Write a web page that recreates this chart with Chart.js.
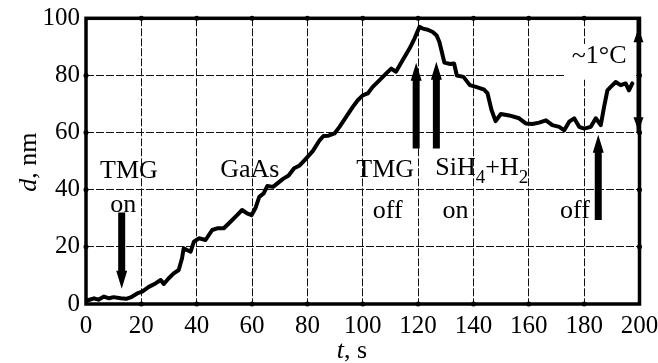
<!DOCTYPE html>
<html>
<head>
<meta charset="utf-8">
<script src="https://cdn.jsdelivr.net/npm/chart.js@4.4.1/dist/chart.umd.min.js"></script>
<style>
  body { margin: 0; background: #fff; }
  canvas { display: block; }
</style>
</head>
<body>
<canvas id="chart" width="658" height="363"></canvas>
<script>
// growth curve, t in s, d in nm
const times = [0, 1, 2.9, 4.5, 6.5, 8.3, 10, 12.5, 14.5, 16.1, 18.5, 20.3, 22.7, 25.1, 27, 28.1, 29.9, 31.7, 33.5,
  34.7, 35.3, 36.5, 37.8, 39, 40.8, 43.2, 45.6, 47.4, 49.8, 52.2, 54.6, 56.4, 58.2, 59.8, 61.2, 62.6, 64.2, 65.5,
  67.6, 69.5, 71.2, 73.2, 75.2, 77.2, 79.6, 82, 84.4, 85.8, 87.6, 89.8, 91.6, 94, 96.4, 98.2, 100, 101.8, 103.6,
  106, 108.5, 110.3, 112, 114.4, 116.9, 118.7, 120.5, 121.7, 123.5, 125.3, 126.7, 127.7, 129.5, 131.6, 133, 134,
  136.4, 138.7, 140.9, 143.9, 145.1, 146.5, 148, 149.9, 152.9, 156.5, 158.9, 161.3, 163.7, 166.2, 168.5, 171,
  172.8, 174.6, 176.4, 178.2, 180, 182.4, 184.2, 186, 187.2, 188.4, 189.6, 191.4, 193.2, 195, 196.2, 197.4]
const depth = [1.2, 1.4, 2.0, 1.5, 2.6, 2.0, 2.4, 2.0, 1.8, 2.3, 3.7, 4.3, 6, 7.2, 8.4, 7, 9, 10.7, 11.9,
  16, 19.5, 18.9, 18.3, 21.8, 23, 22.4, 25.9, 26.5, 26.5, 28.8, 31.1, 32.9, 31.7, 31.1, 33.5, 37.5, 38.7, 41.3,
  41, 42.5, 43.8, 45, 47.5, 48.5, 51, 53.6, 57.3, 58.8, 58.9, 59.7, 62, 65.5, 69, 71.3, 73, 73.7, 76,
  78.3, 80.7, 82.4, 81.3, 85.3, 89.4, 92.9, 97, 96.4, 96, 95.2, 94, 91.7, 84.5, 84, 84.2, 80,
  79.5, 76.6, 76, 75, 73.7, 68, 64, 66.5, 66, 65, 63.2, 63, 63.5, 64.3, 62.6, 62,
  60.8, 63.8, 65, 62, 61.4, 62, 65, 62.6, 69, 74.8, 76, 77.7, 76.6, 77.2, 74.8, 77.2]

// labels: text, x, y (baseline), in data units
const labelText = ['TMG', 'on', 'GaAs', 'TMG', 'off', 'on', 'off', '~1°C']
const labelX = [15.5, 13.5, 59.2, 108.1, 109, 133.5, 176.7, 185.4]
const labelY = [44, 32.2, 44.4, 44.5, 30, 30, 30, 84.2]

// arrows: x, tail, tip (data units)
const arrowX = [12.9, 119.3, 126.6, 185.1]
const arrowFrom = [32, 54.4, 54.4, 29.4]
const arrowTo = [5.3, 84.4, 84.8, 59.2]

const serif = '"Liberation Serif", "DejaVu Serif", serif'

function arrow(ctx, x, y0, y1) {
  let dir = y1 > y0 ? 1 : -1
  let headLen = 18, shaft = 3.5, head = 5.5
  ctx.beginPath()
  ctx.moveTo(x - shaft, y0)
  ctx.lineTo(x - shaft, y1 - dir * headLen)
  ctx.lineTo(x - head, y1 - dir * headLen)
  ctx.lineTo(x, y1)
  ctx.lineTo(x + head, y1 - dir * headLen)
  ctx.lineTo(x + shaft, y1 - dir * headLen)
  ctx.lineTo(x + shaft, y0)
  ctx.closePath()
  ctx.fill()
}

const annotations = {
  id: 'annotations',
  beforeDraw(chart) {
    let ctx = chart.ctx
    ctx.save()
    ctx.fillStyle = '#fff'
    ctx.fillRect(0, 0, chart.width, chart.height)
    ctx.restore()
  },
  beforeDatasetsDraw(chart) {
    let ctx = chart.ctx
    let xs = chart.scales.x, ys = chart.scales.y
    ctx.save()
    // blank patch behind ~1°C
    ctx.fillStyle = '#fff'
    ctx.fillRect(xs.getPixelForValue(173), ys.getPixelForValue(91), xs.getPixelForValue(198) - xs.getPixelForValue(173),
      ys.getPixelForValue(78.5) - ys.getPixelForValue(91))
    ctx.fillStyle = '#000'
    ctx.font = '26px ' + serif
    ctx.textAlign = 'center'
    ctx.textBaseline = 'alphabetic'
    labelText.forEach((t, i) => {
      ctx.fillText(t, xs.getPixelForValue(labelX[i]), ys.getPixelForValue(labelY[i]))
    })
    // SiH4+H2 with subscripts
    let x = xs.getPixelForValue(126.2), y = ys.getPixelForValue(45)
    ctx.textAlign = 'left'
    let parts = [['SiH', 0], ['4', 1], ['+H', 0], ['2', 1]]
    for (let [s, sub] of parts) {
      ctx.font = (sub ? '19px ' : '26px ') + serif
      ctx.fillText(s, x, y + (sub ? 8 : 0))
      x += ctx.measureText(s).width
    }
    ctx.restore()
  },
  afterDatasetsDraw(chart) {
    let ctx = chart.ctx
    let xs = chart.scales.x, ys = chart.scales.y
    let a = chart.chartArea
    ctx.save()
    ctx.fillStyle = '#000'
    ctx.strokeStyle = '#000'
    // frame
    ctx.lineWidth = 3.5
    ctx.strokeRect(a.left, a.top, a.right - a.left, a.bottom - a.top)
    // tick dots on the frame
    for (let v = 20; v < 200; v += 20) {
      let px = xs.getPixelForValue(v)
      for (let py of [a.top, a.bottom]) {
        ctx.beginPath(); ctx.arc(px, py, 2.5, 0, 2 * Math.PI); ctx.fill()
      }
    }
    for (let v = 20; v < 100; v += 20) {
      let py = ys.getPixelForValue(v)
      for (let px of [a.left, a.right]) {
        ctx.beginPath(); ctx.arc(px, py, 2.5, 0, 2 * Math.PI); ctx.fill()
      }
    }
    // arrows
    arrowX.forEach((v, i) => {
      arrow(ctx, xs.getPixelForValue(v), ys.getPixelForValue(arrowFrom[i]), ys.getPixelForValue(arrowTo[i]))
    })
    // ~1°C double arrow on the right edge
    let rx = xs.getPixelForValue(200) - 1
    ctx.lineWidth = 4
    ctx.beginPath()
    ctx.moveTo(rx, ys.getPixelForValue(100))
    ctx.lineTo(rx, ys.getPixelForValue(60))
    ctx.stroke()
    let tri = (yTip, dir) => {
      ctx.beginPath()
      ctx.moveTo(rx, yTip)
      ctx.lineTo(rx - 5, yTip + dir * 14)
      ctx.lineTo(rx + 5, yTip + dir * 14)
      ctx.closePath()
      ctx.fill()
    }
    tri(ys.getPixelForValue(96.5), 1)
    tri(ys.getPixelForValue(60.5), -1)
    // axis titles
    ctx.textBaseline = 'alphabetic'
    ctx.textAlign = 'left'
    let title = (segs) => {
      let w = 0
      for (let [s, it] of segs) { ctx.font = (it ? 'italic ' : '') + '26px ' + serif; w += ctx.measureText(s).width }
      let x = -w / 2
      for (let [s, it] of segs) {
        ctx.font = (it ? 'italic ' : '') + '26px ' + serif
        ctx.fillText(s, x, 0)
        x += ctx.measureText(s).width
      }
    }
    ctx.save()
    ctx.translate(36, ys.getPixelForValue(50) + 1)
    ctx.rotate(-Math.PI / 2)
    title([['d', 1], [', nm', 0]])
    ctx.restore()
    ctx.save()
    ctx.translate(352, 358)
    title([['t', 1], [', s', 0]])
    ctx.restore()
    ctx.restore()
  },
}

const gridStyle = { color: '#111', lineWidth: 1, drawTicks: false }

new Chart(document.getElementById('chart'), {
  type: 'scatter',
  data: {
    datasets: [{
      data: times.map((t, i) => ({ x: t, y: depth[i] })),
      showLine: true,
      borderColor: '#000',
      borderWidth: 4,
      borderJoinStyle: 'round',
      borderCapStyle: 'round',
      pointRadius: 0,
      tension: 0,
    }],
  },
  options: {
    responsive: false,
    animation: false,
    devicePixelRatio: 1,
    layout: { padding: { top: 18.3, right: 18.5, left: 0, bottom: 0 } },
    plugins: { legend: { display: false }, tooltip: { enabled: false } },
    scales: {
      x: {
        type: 'linear',
        min: 0,
        max: 200,
        afterFit: (scale) => { scale.height = 59; scale.paddingLeft = 0; scale.paddingRight = 0 },
        ticks: { stepSize: 20, color: '#000', padding: 7, font: { family: serif, size: 25 }, maxRotation: 0 },
        grid: gridStyle,
        border: { display: false, dash: [8, 2] },
      },
      y: {
        min: 0,
        max: 100,
        afterFit: (scale) => { scale.width = 86; scale.paddingTop = 0; scale.paddingBottom = 0 },
        ticks: { stepSize: 20, color: '#000', padding: 6, font: { family: serif, size: 25 } },
        grid: gridStyle,
        border: { display: false, dash: [8, 2] },
      },
    },
  },
  plugins: [annotations],
})
</script>
</body>
</html>
